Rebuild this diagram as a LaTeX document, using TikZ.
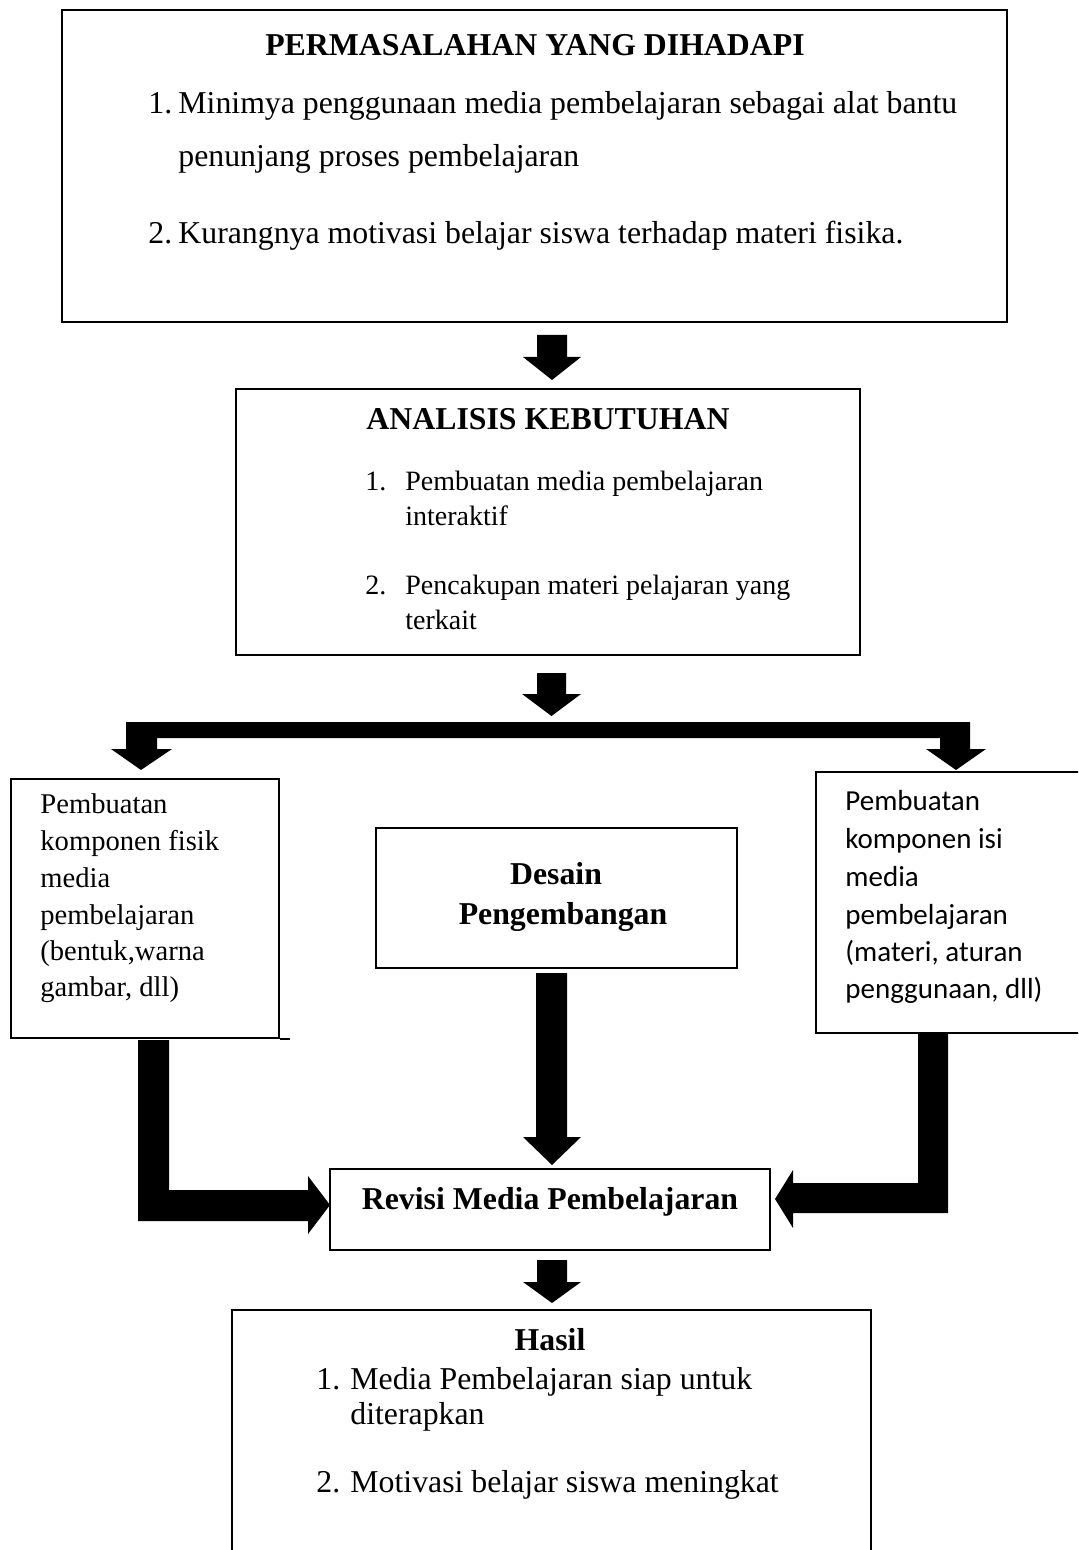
\documentclass[tikz,border=0pt]{standalone}
\usepackage{fontspec}
\setmainfont{Liberation Serif}
\newfontfamily\calib{Carlito}
\usetikzlibrary{fit}
\tikzset{
  box/.style={draw=black, line width=1pt, inner sep=0pt, fill=none},
  txt/.style={inner sep=0pt, font=\fontsize{15.9}{19}\selectfont, text=black},
  stxt/.style={inner sep=0pt, font=\fontsize{14}{17}\selectfont, text=black},
  ltxt/.style={inner sep=0pt, font=\fontsize{14.3}{17}\selectfont, text=black},
  sanstxt/.style={inner sep=0pt, font=\calib\fontsize{14.5}{17}\selectfont, text=black},
  btxt/.style={inner sep=0pt, font=\fontsize{15.9}{19}\selectfont\bfseries, text=black},
  blk/.style={fill=black, draw=none}
}
\begin{document}
\begin{tikzpicture}[x=0.5pt, y=-0.5pt]
\useasboundingbox (0,0) rectangle (1078,1550);
\begin{scope}
\clip (0,0) rectangle (1078,1550);
% boxes
\node[box, fit={(62,10)(1007,322)}] (b1) {};
\node[box, fit={(236,389)(860,655)}] (b2) {};
\node[box, fit={(11,779)(279,1038)}] (bl) {};
\draw[line width=1pt] (bl.south east) -- ++(10,0);
\node[box, fit={(816,772)(1095,1033)}] (br) {};
\node[box, fit={(376,828)(737,968)}] (bc) {};
\node[box, fit={(330,1169)(770,1250)}] (rev) {};
\node[box, fit={(232,1310)(871,1570)}] (has) {};
\end{scope}

% texts box 1
\node[btxt, anchor=base] (t1) at (535,56) {PERMASALAHAN YANG DIHADAPI};
\node[txt, anchor=base west] (t1a) at (148,114) {1.};
\node[txt, anchor=base west] (t1b) at (178,114) {Minimya penggunaan media pembelajaran sebagai alat bantu};
\node[txt, anchor=base west] (t1c) at (178,167) {penunjang proses pembelajaran};
\node[txt, anchor=base west] (t1d) at (148,244) {2.};
\node[txt, anchor=base west] (t1e) at (178,244) {Kurangnya motivasi belajar siswa terhadap materi fisika.};

% box 2
\node[btxt, anchor=base] (t2) at (548,430) {ANALISIS KEBUTUHAN};
\node[stxt, anchor=base west] (t2a) at (365,491) {1.};
\node[stxt, anchor=base west] (t2b) at (405,491) {Pembuatan media pembelajaran};
\node[stxt, anchor=base west] (t2c) at (405,525) {interaktif};
\node[stxt, anchor=base west] (t2d) at (365,594) {2.};
\node[stxt, anchor=base west] (t2e) at (405,594) {Pencakupan materi pelajaran yang};
\node[stxt, anchor=base west] (t2f) at (405,629) {terkait};

% left box
\node[ltxt, anchor=base west] (l1) at (40,813) {Pembuatan};
\node[ltxt, anchor=base west] (l2) at (40,850) {komponen fisik};
\node[ltxt, anchor=base west] (l3) at (40,887) {media};
\node[ltxt, anchor=base west] (l4) at (40,924) {pembelajaran};
\node[ltxt, anchor=base west] (l5) at (40,960) {(bentuk,warna};
\node[ltxt, anchor=base west] (l6) at (40,996) {gambar, dll)};

% right box
\node[sanstxt, anchor=base west] (r1) at (845,810) {Pembuatan};
\node[sanstxt, anchor=base west] (r2) at (845,848) {komponen isi};
\node[sanstxt, anchor=base west] (r3) at (845,886) {media};
\node[sanstxt, anchor=base west] (r4) at (845,924) {pembelajaran};
\node[sanstxt, anchor=base west] (r5) at (845,961) {(materi, aturan};
\node[sanstxt, anchor=base west] (r6) at (845,998) {penggunaan, dll)};

% center box
\node[btxt, anchor=base] (c1) at (556,884) {Desain};
\node[btxt, anchor=base] (c2) at (563,924) {Pengembangan};

% revisi
\node[btxt, anchor=base] (rv) at (550,1209) {Revisi Media Pembelajaran};

% hasil
\node[btxt, anchor=base] (h0) at (550,1350) {Hasil};
\node[txt, anchor=base west] (h1) at (316,1389) {1.};
\node[txt, anchor=base west] (h2) at (350,1389) {Media Pembelajaran siap untuk};
\node[txt, anchor=base west] (h3) at (350,1424) {diterapkan};
\node[txt, anchor=base west] (h4) at (316,1492) {2.};
\node[txt, anchor=base west] (h5) at (350,1492) {Motivasi belajar siswa meningkat};

% block arrows
% b1 -> b2
\fill[blk] (537,335) -- (567,335) -- (567,357) -- (581,357) -- (552,380) -- (523,357) -- (537,357) -- cycle;
% b2 -> bar
\fill[blk] (537,673) -- (566,673) -- (566,694) -- (581,694) -- (551.5,716) -- (522,694) -- (537,694) -- cycle;
% branch bar with two down arrows
\fill[blk] (126,722) -- (970,722) -- (970,749) -- (986,749) -- (956,770) -- (926,749) -- (940,749) -- (940,738)
  -- (157,738) -- (157,749) -- (172,749) -- (141,770) -- (111,749) -- (126,749) -- cycle;
% center down
\fill[blk] (536,973) -- (567,973) -- (567,1137) -- (581,1137) -- (552,1165) -- (523,1137) -- (536,1137) -- cycle;
% left L arrow
\fill[blk] (138,1040) -- (169,1040) -- (169,1190) -- (308,1190) -- (308,1176) -- (330,1205) -- (308,1234) -- (308,1221) -- (138,1221) -- cycle;
% right L arrow
\fill[blk] (918,1034) -- (948,1034) -- (948,1213) -- (793,1213) -- (793,1228) -- (775,1199) -- (793,1170) -- (793,1183) -- (918,1183) -- cycle;
% revisi -> hasil
\fill[blk] (537,1260) -- (567,1260) -- (567,1282) -- (581,1282) -- (552,1303) -- (523,1282) -- (537,1282) -- cycle;
\end{tikzpicture}
\end{document}
